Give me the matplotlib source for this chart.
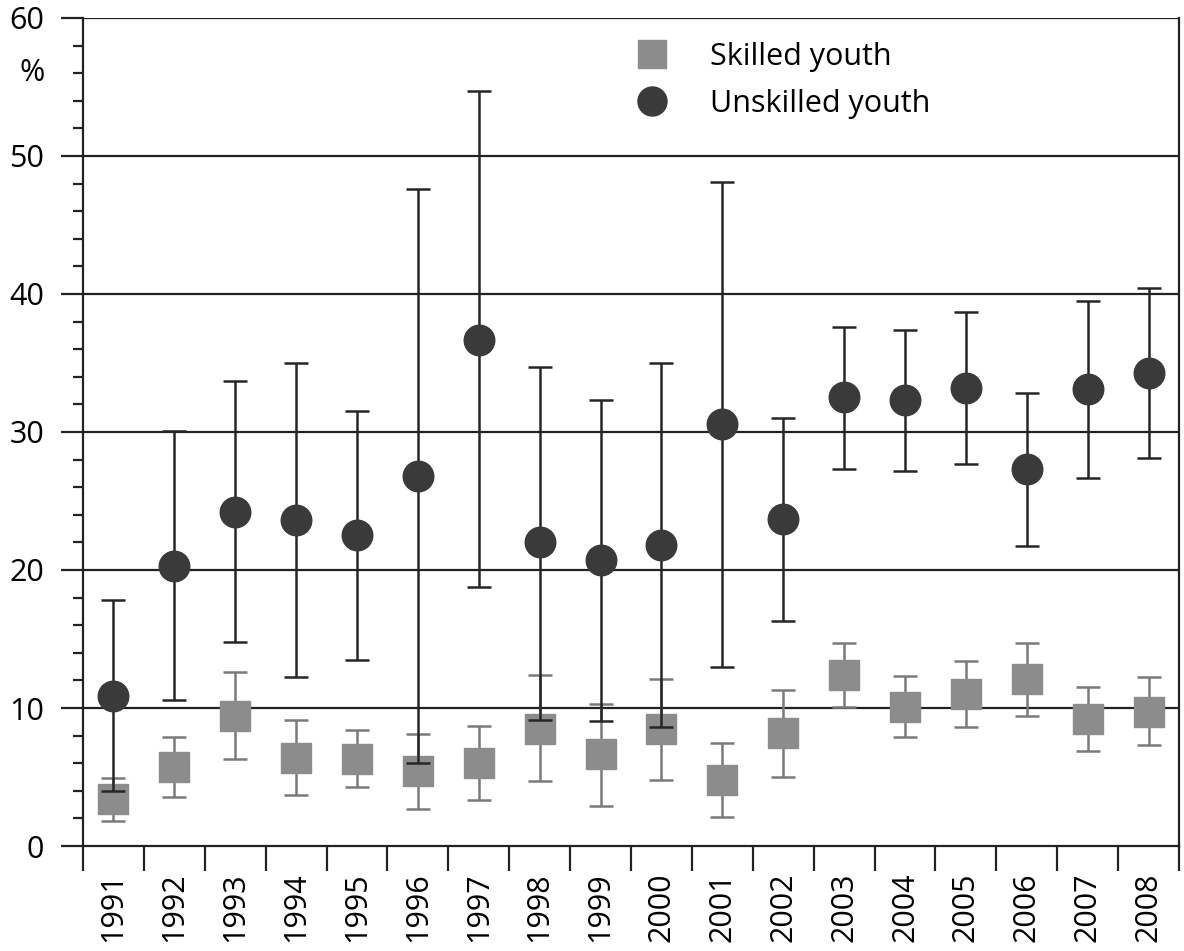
import numpy as np
import matplotlib
matplotlib.use('Agg')
import matplotlib.pyplot as plt
from matplotlib.ticker import MultipleLocator, FixedLocator

plt.rcParams['font.family'] = ['Open Sans', 'DejaVu Sans']

#data
years = [str(y) for y in range(1991, 2009)]
skilled = [3.4, 5.7, 9.4, 6.4, 6.3, 5.4, 6.0, 8.5, 6.7, 8.5, 4.8, 8.2, 12.4, 10.1, 11.0, 12.1, 9.2, 9.7]
skilled_hi = [4.9, 7.9, 12.6, 9.1, 8.4, 8.1, 8.7, 12.4, 10.3, 12.1, 7.5, 11.3, 14.7, 12.3, 13.4, 14.7, 11.5, 12.25]
skilled_lo = [1.8, 3.55, 6.3, 3.7, 4.3, 2.7, 3.3, 4.7, 2.9, 4.8, 2.1, 5.0, 10.1, 7.9, 8.6, 9.4, 6.9, 7.3]
unskilled = [10.9, 20.3, 24.2, 23.6, 22.5, 26.8, 36.7, 22.0, 20.7, 21.8, 30.6, 23.7, 32.5, 32.3, 33.2, 27.3, 33.1, 34.25]
unskilled_hi = [17.8, 30.05, 33.7, 35.0, 31.5, 47.6, 54.7, 34.7, 32.3, 35.0, 48.1, 31.0, 37.6, 37.4, 38.7, 32.8, 39.5, 40.4]
unskilled_lo = [4.0, 10.6, 14.8, 12.25, 13.5, 6.0, 18.8, 9.15, 9.07, 8.6, 13.0, 16.3, 27.3, 27.2, 27.7, 21.75, 26.7, 28.1]

x = np.arange(len(years))
sk = np.array(skilled)
un = np.array(unskilled)
sk_err = [sk - np.array(skilled_lo), np.array(skilled_hi) - sk]
un_err = [un - np.array(unskilled_lo), np.array(unskilled_hi) - un]

fig = plt.figure(figsize=(11.84, 9.51), dpi=100)
ax = fig.add_axes([0.0701, 0.1104, 0.9257, 0.8707])

# horizontal grid lines
for g in range(10, 61, 10):
    ax.axhline(g, color='#222222', lw=1.6, zorder=1)

ax.errorbar(x, sk, yerr=sk_err, fmt='none', ecolor='#7a7a7a', elinewidth=1.8,
            capsize=8.5, capthick=1.8, zorder=2)
sq, = ax.plot(x, sk, 's', ms=21, color='#8c8c8c', mec='#8c8c8c', zorder=3, label='Skilled youth')
ax.errorbar(x, un, yerr=un_err, fmt='none', ecolor='#262626', elinewidth=1.8,
            capsize=8.5, capthick=1.8, zorder=4)
ci, = ax.plot(x, un, 'o', ms=22, color='#3a3a3a', mec='#3a3a3a', zorder=5, label='Unskilled youth')

ax.set_xlim(-0.5, len(years) - 0.5)
ax.set_ylim(0, 60)

for s in ['left', 'bottom', 'right']:
    ax.spines[s].set_linewidth(1.6)
    ax.spines[s].set_color('#222222')
ax.spines['top'].set_visible(False)

ax.yaxis.set_major_locator(MultipleLocator(10))
ax.yaxis.set_minor_locator(MultipleLocator(2))
ax.tick_params(axis='y', which='major', length=16, width=1.6, pad=12, labelsize=22, color='#222222')
ax.tick_params(axis='y', which='minor', length=7, width=1.6, color='#222222')

ax.set_xticks(x)
ax.set_xticklabels(years, rotation=90)
ax.xaxis.set_minor_locator(FixedLocator(np.arange(-0.5, len(years), 1.0)))
ax.tick_params(axis='x', which='major', length=0, pad=19, labelsize=22)
ax.tick_params(axis='x', which='minor', length=18, width=1.6, color='#222222')

ax.text(-0.035, 56, '%', transform=ax.get_yaxis_transform(), ha='right', va='center', fontsize=22)

leg = ax.legend(handles=[sq, ci], loc='upper left', bbox_to_anchor=(0.512, 0.972),
                bbox_transform=fig.transFigure, frameon=False, fontsize=22,
                borderpad=0, labelspacing=0.55, handletextpad=0.9, markerscale=0.95)

fig.savefig('out.png', dpi=100)
